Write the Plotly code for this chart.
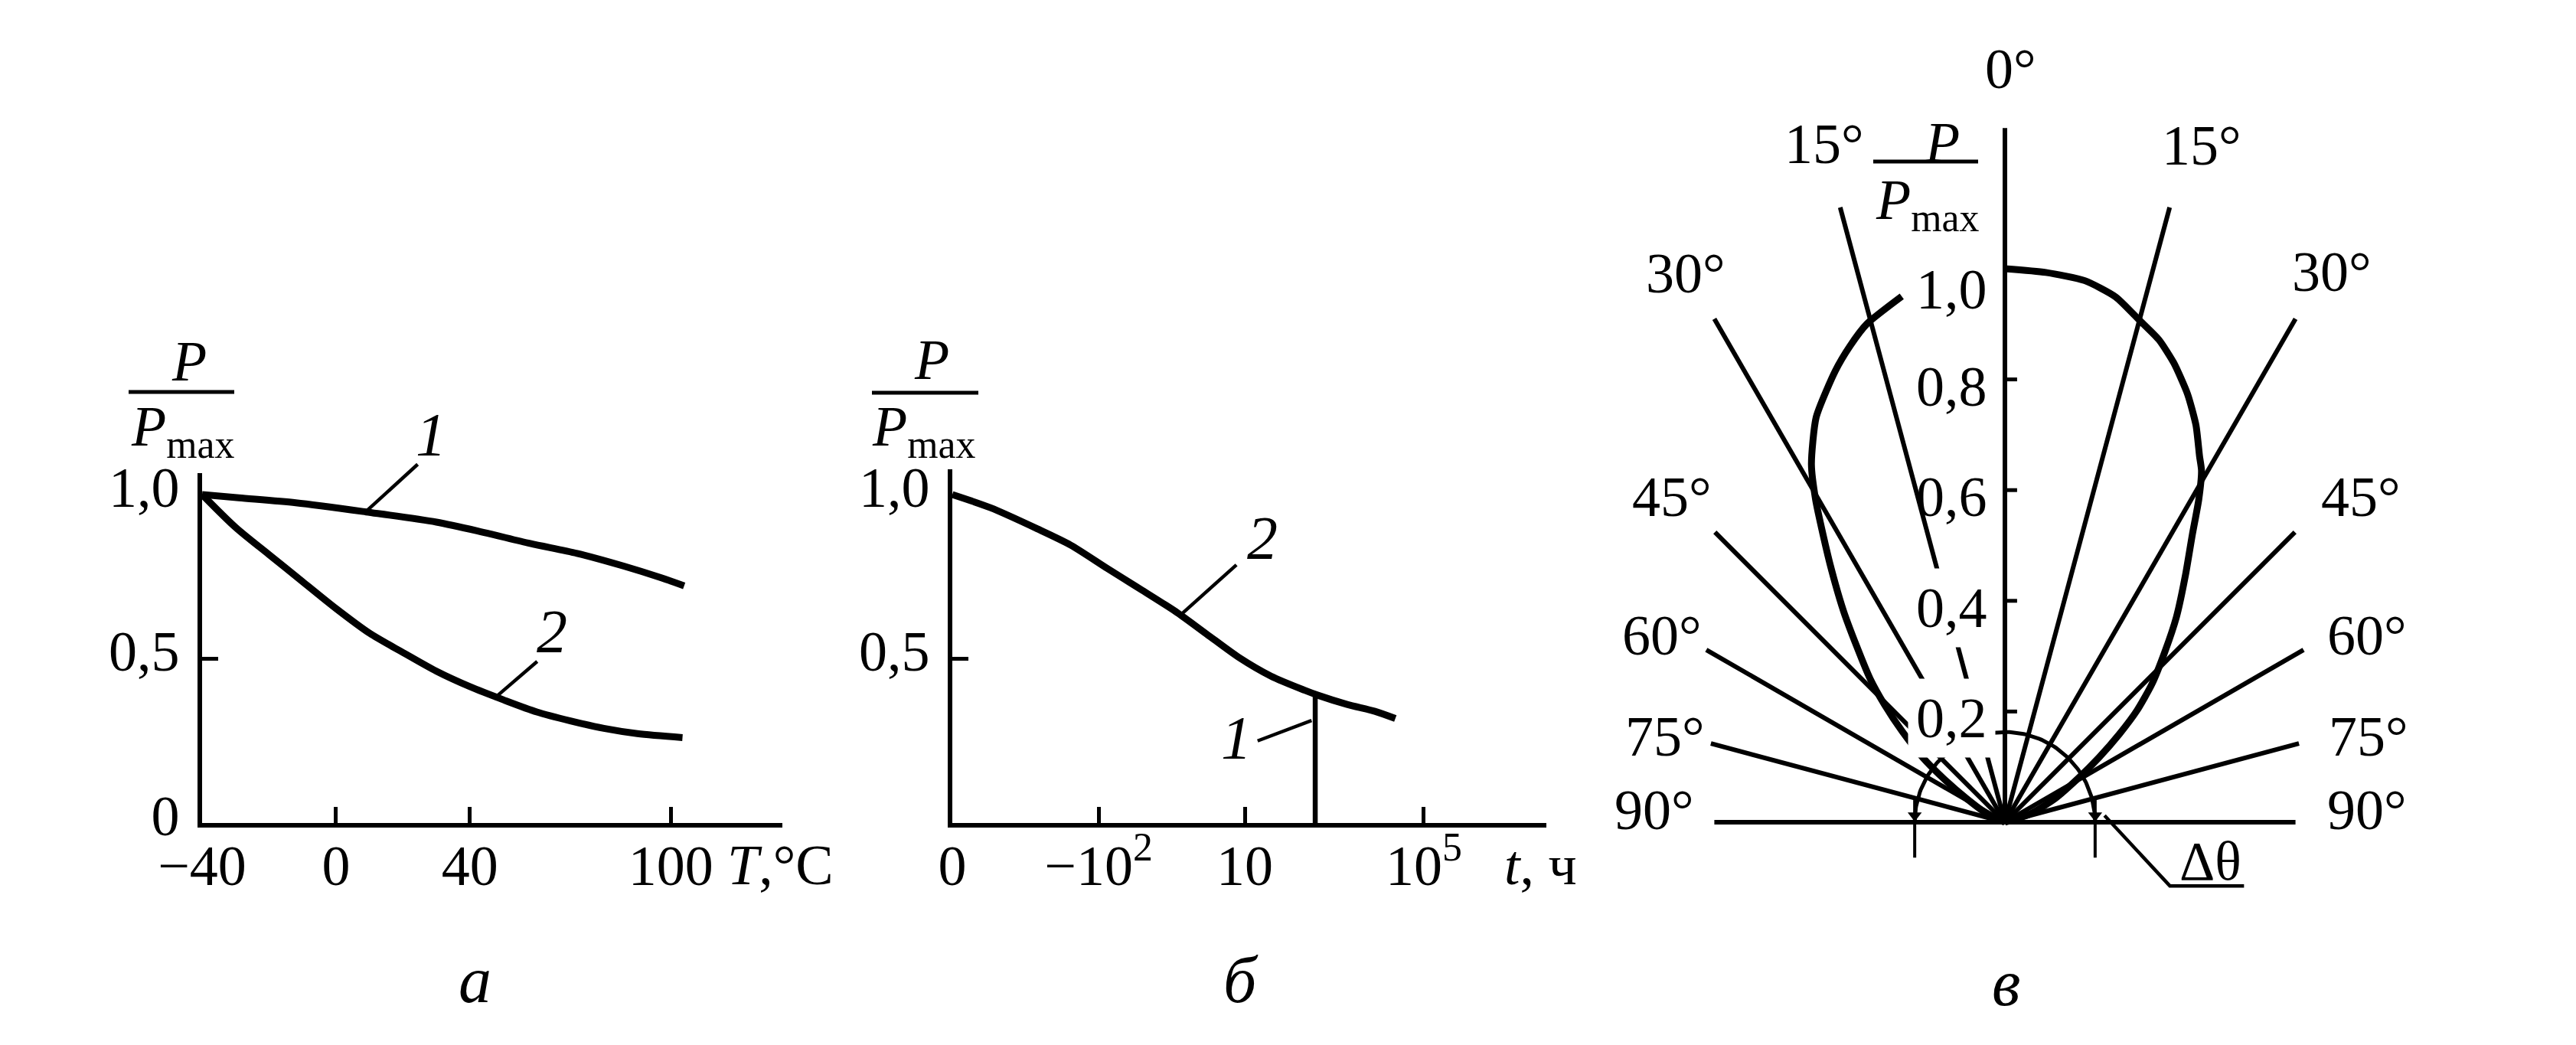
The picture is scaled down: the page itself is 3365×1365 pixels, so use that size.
import numpy as np
import plotly.graph_objects as go

W, H = 3365, 1365
PAGE_MARGIN = 8                      # default body margin of the html page
W_FIG, H_FIG = W - 2 * PAGE_MARGIN, H - 2 * PAGE_MARGIN

# ---------------- data ----------------
# Panel а : P/Pmax versus temperature T, °C
temp_c_1 = [-40, -29, -12, 9, 30, 44, 58, 72, 86, 97, 104]
p_ratio_1 = [1.0, 0.99, 0.975, 0.947, 0.916, 0.885, 0.851, 0.821, 0.782, 0.747, 0.722]
temp_c_2 = [-40, -30, -20, -10, 0, 10, 20, 30, 40, 50, 60, 70, 80, 90, 103.5]
p_ratio_2 = [1.0, 0.90, 0.817, 0.735, 0.653, 0.578, 0.519, 0.462, 0.415, 0.375, 0.338, 0.311, 0.288, 0.272, 0.26]
temp_tick_vals = [-40, 0, 40, 100]
temp_tick_text = ["\u221240", "0", "40", "100"]
ratio_tick_vals_a = [0, 0.5, 1.0]
ratio_tick_text_a = ["0", "0,5", "1,0"]

# Panel б : P/Pmax versus time t (positions along the printed scale)
time_pos = [0, 0.26, 0.58, 0.81, 1.06, 1.29, 1.54, 1.74, 1.96, 2.18, 2.41, 2.5, 2.7, 2.89, 3.03]
p_ratio_time = [1.0, 0.96, 0.896, 0.846, 0.775, 0.711, 0.64, 0.575, 0.504, 0.447, 0.404, 0.389, 0.361, 0.34, 0.318]
time_marker_pos = [2.482, 2.482]
time_marker_val = [0.0, 0.397]
time_tick_vals = [0, 1, 2, 3.225]
time_tick_text = ["0", "\u221210<sup>2</sup>", "10", "10<sup>5</sup>"]
ratio_tick_vals_b = [0.5, 1.0]
ratio_tick_text_b = ["0,5", "1,0"]

# Panel в : radiation pattern P/Pmax(theta)
lobe_theta_right = [0, 4.25, 8.4, 11.9, 15, 17.7, 20.2, 23.1, 25.7, 28, 29.2, 31, 33.1, 36.2, 39.9,
                    43.2, 46.8, 49.8, 52.4, 55.5, 59, 64.8, 71.6, 90]
lobe_r_right = [1.0, 0.996, 0.989, 0.970, 0.939, 0.915, 0.884, 0.841, 0.796, 0.749, 0.728, 0.68, 0.62,
                0.552, 0.483, 0.422, 0.364, 0.312, 0.261, 0.206, 0.155, 0.10, 0.05, 0.0]
lobe_theta_left = [11.1, 15.5, 18, 20.6, 25, 28.4, 30.4, 32.3, 34.5, 37.4, 40.1, 43.2, 45.7, 48.5, 51.8,
                   54.5, 58.4, 65, 90]
lobe_r_left = [0.968, 0.934, 0.905, 0.871, 0.807, 0.735, 0.676, 0.615, 0.553, 0.48, 0.416, 0.356, 0.304,
               0.248, 0.189, 0.137, 0.081, 0.035, 0.0]
ray_angles = [-90, -75, -60, -45, -30, -15, 0, 15, 30, 45, 60, 75, 90]
ray_lengths = [0.525, 0.55, 0.623, 0.741, 1.05, 1.15, 1.254, 1.15, 1.05, 0.741, 0.623, 0.55, 0.525]
radial_tick_vals = [0.2, 0.4, 0.6, 0.8]
radial_label_vals = [0.2, 0.4, 0.6, 0.8, 1.0]
radial_label_text = ["0,2", "0,4", "0,6", "0,8", "1,0"]
angle_label_text = ["90°", "75°", "60°", "45°", "30°", "15°", "0°", "15°", "30°", "45°", "60°", "75°", "90°"]
delta_theta_radius = 0.163

# ---------------- layout constants (image pixels) ----------------
FONT = "Liberation Serif"
BLACK = "black"
FS = 74

A_LEFT, A_RIGHT, A_BASE, A_TOP = 264, 1022, 1075, 618
A_PX_PER_C = 4.373
B_LEFT, B_RIGHT, B_BASE, B_TOP = 1244, 2020, 1075, 613
B_PX_PER_UNIT = 191
UNIT_Y = 429
C_LEFT = 2090
CX, CY, CR = 2619, 1074, 723


def px(x):
    return (x - PAGE_MARGIN) / W_FIG


def py(y):
    return 1 - (y - PAGE_MARGIN) / H_FIG


fig = go.Figure()


def line_trace(x, y, xa, ya, width, shape="linear", smoothing=None):
    ln = dict(color=BLACK, width=width, shape=shape)
    if smoothing is not None:
        ln["smoothing"] = smoothing
    fig.add_trace(go.Scatter(x=x, y=y, mode="lines", line=ln, xaxis=xa, yaxis=ya,
                             hoverinfo="skip", showlegend=False))


# ---------- panel а ----------
line_trace(temp_c_1, p_ratio_1, "x", "y", 9, "spline", 0.8)
line_trace(temp_c_2, p_ratio_2, "x", "y", 9, "spline", 0.8)
# leaders (on an extended, invisible y scale with the same units)
line_trace([8.7, 24.4], [0.946, 1.092], "x", "y4", 4.5)
line_trace([47.1, 60.1], [0.378, 0.492], "x", "y4", 4.5)

# ---------- panel б ----------
line_trace(time_pos, p_ratio_time, "x2", "y2", 9, "spline", 0.8)
line_trace(time_marker_pos, time_marker_val, "x2", "y2", 6.5)
line_trace([1.575, 1.943], [0.639, 0.786], "x2", "y2", 4.5)
line_trace([2.457, 2.34, 2.088], [0.312, 0.292, 0.25], "x2", "y2", 4.5)


# ---------- panel в ----------
def polar_xy(theta_deg, r, side=1):
    th = np.radians(np.asarray(theta_deg, dtype=float))
    r = np.asarray(r, dtype=float)
    return side * r * np.sin(th), r * np.cos(th)


rx, ry = [], []
for ang, ln in zip(ray_angles, ray_lengths):
    x1, y1 = polar_xy(ang, ln)
    rx += [0, float(x1), None]
    ry += [0, float(y1), None]
line_trace(rx, ry, "x3", "y3", 6)

tx_, ty_ = [], []
for v in radial_tick_vals:
    tx_ += [0, 0.022, None]
    ty_ += [v, v, None]
line_trace(tx_, ty_, "x3", "y3", 5)

# Δθ arc with its end marks
arc_t = np.linspace(-90, 90, 121)
ax_, ay_ = polar_xy(arc_t, np.full_like(arc_t, delta_theta_radius))
line_trace(ax_, ay_, "x3", "y3", 5)
line_trace([-delta_theta_radius, -delta_theta_radius, None, delta_theta_radius, delta_theta_radius],
           [0.04, -0.064, None, 0.04, -0.064], "x3", "y3", 4)
fig.add_trace(go.Scatter(x=[-delta_theta_radius, delta_theta_radius], y=[0.012, 0.012], mode="markers",
                         marker=dict(symbol="triangle-down", size=16, color=BLACK),
                         xaxis="x3", yaxis="y3", hoverinfo="skip", showlegend=False))
line_trace([0.18, 0.298, 0.432], [0.012, -0.115, -0.115], "x3", "y3", 4.5)

lx, ly = polar_xy(lobe_theta_right, lobe_r_right, 1)
line_trace(lx, ly, "x3", "y3", 9, "spline", 0.6)
lx, ly = polar_xy(lobe_theta_left, lobe_r_left, -1)
line_trace(lx, ly, "x3", "y3", 9, "spline", 0.6)

# ---------- axes ----------
tickfont = dict(family=FONT, size=FS, color=BLACK)


def lin_axis(**kw):
    d = dict(showline=True, linecolor=BLACK, linewidth=5.5, showgrid=False, zeroline=False,
             ticks="", tickmode="array", tickfont=tickfont, fixedrange=True, automargin=False)
    d.update(kw)
    return d


def minor(vals):
    return dict(tickmode="array", tickvals=vals, ticks="inside", ticklen=21, tickwidth=5,
                tickcolor=BLACK, showgrid=False)


fig.update_layout(
    template="none",
    width=W_FIG, height=H_FIG, margin=dict(l=0, r=0, t=0, b=0, pad=0, autoexpand=False),
    paper_bgcolor="white", plot_bgcolor="rgba(0,0,0,0)", showlegend=False,
    xaxis=lin_axis(domain=[px(A_LEFT), px(A_RIGHT)], anchor="y",
                   range=[-40, -40 + (A_RIGHT - A_LEFT) / A_PX_PER_C],
                   tickvals=temp_tick_vals, ticktext=temp_tick_text, ticklabelstandoff=-14,
                   minor=minor(temp_tick_vals[1:])),
    yaxis=lin_axis(domain=[py(A_BASE), py(A_TOP)], anchor="x",
                   range=[0, (A_BASE - A_TOP) / UNIT_Y],
                   tickvals=ratio_tick_vals_a, ticktext=ratio_tick_text_a,
                   ticklabelstandoff=9, ticklabelshift=-10, minor=minor([0.5])),
    yaxis4=dict(domain=[py(A_BASE), 1.0], anchor="x", visible=False, fixedrange=True, automargin=False,
                range=[0, (A_BASE - PAGE_MARGIN) / UNIT_Y]),
    xaxis2=lin_axis(domain=[px(B_LEFT), px(B_RIGHT)], anchor="y2",
                    range=[0, (B_RIGHT - B_LEFT) / B_PX_PER_UNIT],
                    tickvals=time_tick_vals, ticktext=time_tick_text, ticklabelstandoff=-14,
                    minor=minor(time_tick_vals[1:])),
    yaxis2=lin_axis(domain=[py(B_BASE), py(B_TOP)], anchor="x2",
                    range=[0, (B_BASE - B_TOP) / UNIT_Y],
                    tickvals=ratio_tick_vals_b, ticktext=ratio_tick_text_b,
                    ticklabelstandoff=9, ticklabelshift=-10, minor=minor([0.5])),
    xaxis3=dict(domain=[px(C_LEFT), 1.0], anchor="y3", visible=False, fixedrange=True, automargin=False,
                range=[(C_LEFT - CX) / CR, (W - PAGE_MARGIN - CX) / CR]),
    yaxis3=dict(domain=[0, 1], anchor="x3", visible=False, fixedrange=True, automargin=False,
                range=[(CY - (H - PAGE_MARGIN)) / CR, (CY - PAGE_MARGIN) / CR]),
)


# ---------- annotations ----------
def text(x, y, s, size=FS, xanchor="center", yanchor="middle", **kw):
    fig.add_annotation(x=px(x), y=py(y), xref="paper", yref="paper", text=s, showarrow=False,
                       font=dict(family=FONT, size=size, color=BLACK),
                       xanchor=xanchor, yanchor=yanchor, **kw)


def curve_label(xr, yr, x, y, s):
    fig.add_annotation(x=x, y=y, xref=xr, yref=yr, text="<i>%s</i>" % s, showarrow=False,
                       font=dict(family=FONT, size=80, color=BLACK))


def fraction(cx_num, cy_num, x0, x1, ybar, cx_den, cy_den):
    text(cx_num, cy_num, "<i>P</i>")
    fig.add_shape(type="line", xref="paper", yref="paper", x0=px(x0), x1=px(x1), y0=py(ybar), y1=py(ybar),
                  line=dict(color=BLACK, width=5))
    text(cx_den, cy_den, "<i>P</i><sub>max</sub>")


# panel а
curve_label("x", "y4", 28.3, 1.182, "1")
curve_label("x", "y4", 64.6, 0.582, "2")
fraction(247, 472, 168, 306, 512, 238, 563)
text(1020, 1130, "<i>T</i>,°C")
text(620, 1280, "<i>а</i>", size=86)

# panel б
curve_label("x2", "y2", 2.12, 0.868, "2")
curve_label("x2", "y2", 1.943, 0.258, "1")
fraction(1217, 470, 1139, 1278, 513, 1206, 563)
text(2012, 1130, "<i>t</i>, ч")
text(1621, 1280, "<i>б</i>", size=86)

# panel в
fraction(2537, 186, 2447, 2584, 211, 2517, 266)
angle_label_px = [(2161, 1058), (2175, 962), (2171, 830), (2184, 649), (2202, 357), (2383, 188),
                  (2626, 90), (2876, 190), (3046, 355), (3084, 649), (3092, 830), (3094, 962), (3092, 1058)]
for (lx_, ly_), s in zip(angle_label_px, angle_label_text):
    text(lx_, ly_, s)
for v, s in zip(radial_label_vals, radial_label_text):
    masked = s in ("0,4", "0,2")
    fig.add_annotation(x=-0.03 + (0.014 if masked else 0), y=v, xref="x3", yref="y3", text=s,
                       showarrow=False, xanchor="right", yanchor="middle",
                       yshift=-27 if v == 1.0 else -9,
                       font=dict(family=FONT, size=FS, color=BLACK),
                       bgcolor="white" if masked else "rgba(0,0,0,0)", borderpad=10 if masked else 0)
text(2887, 1125, "Δθ", size=72)
text(2620, 1284, "<i>в</i>", size=86)

fig.write_html("out.html")
